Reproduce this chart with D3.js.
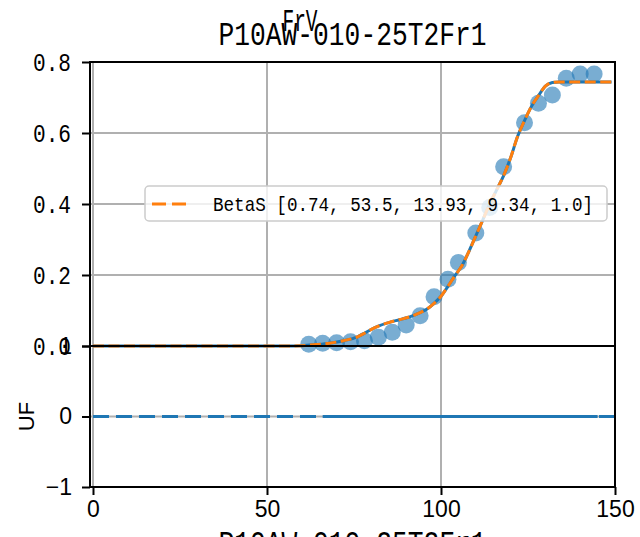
<!DOCTYPE html>
<html>
<head>
<meta charset="utf-8">
<script src="https://cdn.jsdelivr.net/npm/d3@7"></script>
<style>
  html, body { margin: 0; padding: 0; background: #fff; }
  svg { display: block; }
</style>
</head>
<body>
<script>
// ---- data ----
const pointX = [62, 66, 70, 74, 78, 82, 86, 90, 94, 98, 102, 105, 110, 114, 118, 124, 128, 132, 136, 140, 144];
const pointY = [0.005, 0.008, 0.009, 0.012, 0.015, 0.025, 0.039, 0.059, 0.085, 0.139, 0.188, 0.235, 0.318, 0.39, 0.505, 0.629, 0.684, 0.707, 0.754, 0.766, 0.766];

const curveX = [0, 55, 60, 64, 68, 72, 76, 78, 80, 82, 85, 88, 91, 94, 96, 98, 100, 102, 104, 106, 108, 110, 112, 114, 116, 118, 120, 122, 124, 126, 128, 130, 132, 134, 149];
const curveY = [0, 0, 0.001, 0.004, 0.008, 0.015, 0.026, 0.036, 0.047, 0.056, 0.066, 0.074, 0.082, 0.094, 0.104, 0.120, 0.140, 0.168, 0.198, 0.226, 0.266, 0.31, 0.355, 0.40, 0.44, 0.48, 0.53, 0.59, 0.635, 0.675, 0.705, 0.732, 0.742, 0.744, 0.744];

const residX = [0, 150];
const residY = [0, 0];
const residPointsX = [66, 145];
const residPointsY = [0, 0];

const xTicks = [0, 50, 100, 150];
const xTickLabels = ["0", "50", "100", "150"];
const topYTicks = [0, 0.2, 0.4, 0.6, 0.8];
const topYTickLabels = ["0.0", "0.2", "0.4", "0.6", "0.8"];
const botYTicks = [-1, 0, 1];
const botYTickLabels = ["\u22121", "0", "1"];

const titleText = "P10AW-010-25T2Fr1";
const supTitleText = "FrV";
const xLabelText = "P10AW-010-25T2Fr1";
const yLabelBottom = "UF";
const legendText = "BetaS [0.74, 53.5, 13.93, 9.34, 1.0]";

// ---- layout ----
const W = 640, H = 537;
const left = 90, right = 615, topY = 62, midY = 346, botY = 487;
const blue = "#1f77b4", orange = "#ff7f0e", gridC = "#b0b0b0";
const mono = "'Liberation Mono', 'DejaVu Sans Mono', monospace";
const sans = "'Liberation Sans', Arial, sans-serif";

const svg = d3.select("body").append("svg").attr("width", W).attr("height", H);

const x = d3.scaleLinear().domain([-0.86, 150]).range([left, right]);
const yTop = d3.scaleLinear().domain([0, 0.8]).range([midY, topY]);
const yBot = d3.scaleLinear().domain([-1, 1]).range([botY, midY]);

// ---- grids ----
const grid = svg.append("g").attr("stroke", gridC).attr("stroke-width", 2);
grid.selectAll("line.gxt").data(xTicks).join("line")
  .attr("x1", d => x(d)).attr("x2", d => x(d)).attr("y1", topY).attr("y2", midY);
grid.selectAll("line.gxb").data(xTicks).join("line").attr("class", "gxb")
  .attr("x1", d => x(d)).attr("x2", d => x(d)).attr("y1", midY).attr("y2", botY);
grid.selectAll("line.gyt").data(topYTicks).join("line").attr("class", "gyt")
  .attr("x1", left).attr("x2", right).attr("y1", d => yTop(d)).attr("y2", d => yTop(d));
grid.selectAll("line.gyb").data(botYTicks).join("line").attr("class", "gyb")
  .attr("x1", left).attr("x2", right).attr("y1", d => yBot(d)).attr("y2", d => yBot(d));

// ---- top panel marks ----
const gTop = svg.append("g");
gTop.selectAll("circle").data(pointX.map((v, i) => [v, pointY[i]])).join("circle")
  .attr("cx", d => x(d[0])).attr("cy", d => yTop(d[1])).attr("r", 8.5)
  .attr("fill", blue).attr("fill-opacity", 0.6);

const lineTop = d3.line().x(d => x(d[0])).y(d => yTop(d[1])).curve(d3.curveMonotoneX);
const curveData = curveX.map((v, i) => [v, curveY[i]]);
gTop.append("path").datum(curveData).attr("d", lineTop)
  .attr("fill", "none").attr("stroke", blue).attr("stroke-width", 3);
gTop.append("path").datum(curveData).attr("d", lineTop)
  .attr("fill", "none").attr("stroke", orange).attr("stroke-width", 3)
  .attr("stroke-dasharray", "11,4.5");

// ---- bottom panel marks ----
const lineBot = d3.line().x(d => x(d[0])).y(d => yBot(d[1]));
svg.append("path").datum(residX.map((v, i) => [v, residY[i]])).attr("d", lineBot)
  .attr("fill", "none").attr("stroke", blue).attr("stroke-width", 3)
  .attr("stroke-dasharray", "16,7");
svg.append("path").datum(residPointsX.map((v, i) => [v, residPointsY[i]])).attr("d", lineBot)
  .attr("fill", "none").attr("stroke", blue).attr("stroke-width", 3);

// ---- axes ----
function styleAxis(g, fontFam, size) {
  g.select(".domain").remove();
  g.selectAll(".tick line").attr("stroke", "#000").attr("stroke-width", 2);
  g.selectAll(".tick text").attr("fill", "#000").attr("font-family", fontFam).attr("font-size", size);
}
const xAxis = svg.append("g").attr("transform", `translate(0,${botY})`)
  .call(d3.axisBottom(x).tickValues(xTicks).tickFormat((d, i) => xTickLabels[i]).tickSize(8).tickPadding(6));
styleAxis(xAxis, sans, 23);

const yAxTop = svg.append("g").attr("transform", `translate(${left},0)`)
  .call(d3.axisLeft(yTop).tickValues(topYTicks).tickFormat((d, i) => topYTickLabels[i]).tickSize(8).tickPadding(11));
styleAxis(yAxTop, mono, 25);
yAxTop.selectAll(".tick text").attr("textLength", 38).attr("lengthAdjust", "spacingAndGlyphs");

const yAxBot = svg.append("g").attr("transform", `translate(${left},0)`)
  .call(d3.axisLeft(yBot).tickValues(botYTicks).tickFormat((d, i) => botYTickLabels[i]).tickSize(8).tickPadding(10));
styleAxis(yAxBot, sans, 23);

// ---- spines ----
const sp = svg.append("g").attr("fill", "none").attr("stroke", "#000").attr("stroke-width", 2);
sp.append("rect").attr("x", left).attr("y", topY).attr("width", right - left).attr("height", midY - topY);
sp.append("rect").attr("x", left).attr("y", midY).attr("width", right - left).attr("height", botY - midY);

// ---- legend ----
const lg = svg.append("g");
lg.append("rect").attr("x", 145).attr("y", 186).attr("width", 462).attr("height", 35).attr("rx", 4)
  .attr("fill", "#fff").attr("fill-opacity", 0.8).attr("stroke", "#cccccc").attr("stroke-width", 1.5);
lg.append("line").attr("x1", 152).attr("x2", 192).attr("y1", 204).attr("y2", 204)
  .attr("stroke", orange).attr("stroke-width", 3).attr("stroke-dasharray", "14,6");
lg.append("text").attr("x", 213).attr("y", 211).text(legendText)
  .attr("font-family", mono).attr("font-size", 21)
  .attr("textLength", 380).attr("lengthAdjust", "spacingAndGlyphs");

// ---- titles & labels ----
svg.append("text").attr("x", (left + right) / 2).attr("y", 45).attr("text-anchor", "middle")
  .attr("font-family", mono).attr("font-size", 33).text(titleText)
  .attr("textLength", 268).attr("lengthAdjust", "spacingAndGlyphs");
svg.append("text").attr("x", 300).attr("y", 31).attr("text-anchor", "middle")
  .attr("font-family", mono).attr("font-size", 31).text(supTitleText)
  .attr("textLength", 35).attr("lengthAdjust", "spacingAndGlyphs");
svg.append("text").attr("x", (left + right) / 2).attr("y", 554).attr("text-anchor", "middle")
  .attr("font-family", mono).attr("font-size", 33).text(xLabelText)
  .attr("textLength", 268).attr("lengthAdjust", "spacingAndGlyphs");
svg.append("text").attr("transform", `translate(34,${(midY + botY) / 2}) rotate(-90)`)
  .attr("text-anchor", "middle").attr("font-family", sans).attr("font-size", 22).text(yLabelBottom);
</script>
</body>
</html>
